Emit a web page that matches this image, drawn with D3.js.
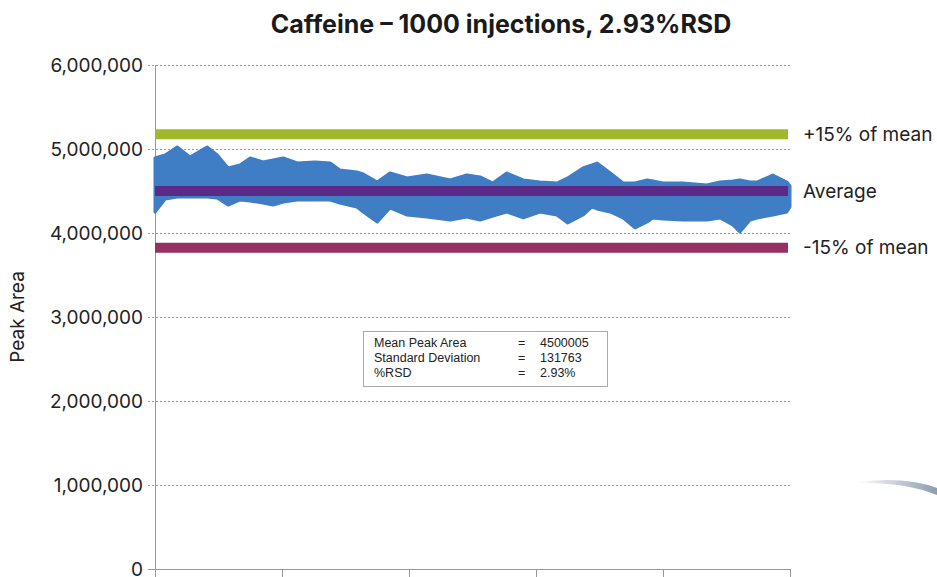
<!DOCTYPE html>
<html>
<head>
<meta charset="utf-8">
<script src="https://d3js.org/d3.v7.min.js"></script>
<style>
    body { margin: 0; background: #fff; }
    svg { display: block; }
</style>
</head>
<body>
<div id="chart"></div>
<script>
// envelope of the 1000 injection points
var injection = [0, 16, 35, 55, 82, 98, 115, 134, 150, 170, 186, 202, 224, 252, 276, 291, 318, 328, 350, 370,
    397, 428, 465, 491, 512, 532, 554, 580, 606, 633, 650, 674, 688, 696, 717, 737, 756, 775, 784, 800,
    831, 869, 890, 910, 921, 937, 948, 973, 995, 1000];
var upperArea = [4893000, 4929000, 5024000, 4905000, 5024000, 4929000, 4774000, 4810000, 4893000, 4845000,
    4869000, 4893000, 4833000, 4845000, 4833000, 4750000, 4726000, 4702000, 4607000, 4714000,
    4655000, 4690000, 4631000, 4690000, 4667000, 4595000, 4714000, 4631000, 4607000, 4595000,
    4655000, 4774000, 4810000, 4833000, 4714000, 4595000, 4595000, 4631000, 4619000, 4595000,
    4595000, 4571000, 4607000, 4619000, 4631000, 4607000, 4607000, 4690000, 4607000, 4560000];
var lowerArea = [4250000, 4405000, 4429000, 4429000, 4429000, 4417000, 4333000, 4393000, 4381000, 4357000,
    4333000, 4369000, 4393000, 4393000, 4393000, 4357000, 4310000, 4250000, 4131000, 4298000,
    4214000, 4190000, 4155000, 4190000, 4155000, 4202000, 4250000, 4179000, 4250000, 4214000,
    4119000, 4214000, 4310000, 4286000, 4250000, 4179000, 4060000, 4131000, 4179000, 4167000,
    4155000, 4155000, 4179000, 4095000, 4012000, 4155000, 4179000, 4214000, 4250000, 4310000];

var refNames = ["+15% of mean", "Average", "-15% of mean"];
var refValues = [5175006, 4500005, 3825004];
var refColors = ["#a2b82c", "#5b2986", "#962f62"];

var yTicks = [0, 1000000, 2000000, 3000000, 4000000, 5000000, 6000000];
var xTicks = [0, 200, 400, 600, 800, 1000];

var statLabels = ["Mean Peak Area", "Standard Deviation", "%RSD"];
var statValues = ["4500005", "131763", "2.93%"];

var W = 937, H = 577;
var svg = d3.select("#chart").append("svg").attr("width", W).attr("height", H);

var x = d3.scaleLinear().domain([0, 1000]).range([155, 790]);
var y = d3.scaleLinear().domain([0, 6000000]).range([569, 65]);

// decorative swoosh bottom right
var grad = svg.append("defs").append("linearGradient").attr("id", "sw")
    .attr("x1", "0%").attr("x2", "100%");
grad.append("stop").attr("offset", "0%").attr("stop-color", "#fff");
grad.append("stop").attr("offset", "100%").attr("stop-color", "#8d9bb0");
svg.append("path")
    .attr("d", "M858,482 Q905,476 937,488 L937,495 Q905,482 858,483 Z")
    .attr("fill", "url(#sw)");

// grid
svg.append("g").selectAll("line")
    .data(yTicks.filter(function (d) { return d > 0; }))
    .enter().append("line")
    .attr("x1", 148).attr("x2", 790)
    .attr("y1", function (d) { return y(d) + 0.5; })
    .attr("y2", function (d) { return y(d) + 0.5; })
    .attr("stroke", "#9a9a9a").attr("stroke-width", 1)
    .attr("stroke-dasharray", "2,2");

// y tick labels
svg.append("g").selectAll("text")
    .data(yTicks)
    .enter().append("text")
    .attr("x", 143)
    .attr("y", function (d) { return y(d); })
    .attr("dy", "0.35em")
    .attr("text-anchor", "end")
    .style("font-family", "Inter, 'Noto Sans', sans-serif")
    .style("font-size", "19px")
    .attr("fill", "#222")
    .text(function (d) { return d3.format(",")(d); });

// axes
svg.append("line").attr("x1", 155.5).attr("x2", 155.5).attr("y1", 65).attr("y2", 569)
    .attr("stroke", "#999");
svg.append("line").attr("x1", 148).attr("x2", 790).attr("y1", 569.5).attr("y2", 569.5)
    .attr("stroke", "#999");
svg.append("g").selectAll("line")
    .data(xTicks)
    .enter().append("line")
    .attr("x1", function (d) { return Math.round(x(d)) + 0.5; })
    .attr("x2", function (d) { return Math.round(x(d)) + 0.5; })
    .attr("y1", 569).attr("y2", 580)
    .attr("stroke", "#999");

// band of injections
var band = injection.map(function (d, i) { return { i: d, hi: upperArea[i], lo: lowerArea[i] }; });
svg.append("path")
    .datum(band)
    .attr("d", d3.area()
        .x(function (d) { return x(d.i); })
        .y0(function (d) { return y(d.lo); })
        .y1(function (d) { return y(d.hi); })
        .curve(d3.curveLinear))
    .attr("fill", "#3f7dc4")
    .attr("stroke", "#3f7dc4")
    .attr("stroke-width", 3)
    .attr("stroke-linejoin", "round");

// reference lines
svg.append("g").selectAll("line")
    .data(refValues)
    .enter().append("line")
    .attr("x1", x(0)).attr("x2", 788)
    .attr("y1", function (d) { return y(d); })
    .attr("y2", function (d) { return y(d); })
    .attr("stroke", function (d, i) { return refColors[i]; })
    .attr("stroke-width", 10);

svg.append("g").selectAll("text")
    .data(refValues)
    .enter().append("text")
    .attr("x", 803)
    .attr("y", function (d) { return y(d); })
    .attr("dy", "0.35em")
    .style("font-family", "Inter, 'Noto Sans', sans-serif")
    .style("font-size", "19px")
    .attr("fill", "#222")
    .text(function (d, i) { return refNames[i]; });

// stats box
svg.append("rect").attr("x", 363.5).attr("y", 331.5).attr("width", 244).attr("height", 55)
    .attr("fill", "#fff").attr("stroke", "#aaa");
var st = svg.append("g").style("font-family", "'Liberation Sans', Arial, sans-serif")
    .style("font-size", "12.5px").attr("fill", "#222");
statLabels.forEach(function (s, i) {
    var yy = 347 + i * 15;
    st.append("text").attr("x", 374).attr("y", yy).text(s);
    st.append("text").attr("x", 518).attr("y", yy).text("=");
    st.append("text").attr("x", 540).attr("y", yy).text(statValues[i]);
});

// title
svg.append("text")
    .attr("x", 501).attr("y", 33)
    .attr("text-anchor", "middle")
    .style("font-family", "Inter, 'Noto Sans', sans-serif")
    .style("font-size", "25px")
    .style("font-weight", "bold")
    .attr("fill", "#1a1a1a")
    .text("Caffeine \u2013 1000 injections, 2.93%RSD");

// y label
svg.append("text")
    .attr("transform", "translate(24,317) rotate(-90)")
    .attr("text-anchor", "middle")
    .style("font-family", "Inter, 'Noto Sans', sans-serif")
    .style("font-size", "19px")
    .attr("fill", "#222")
    .text("Peak Area");
</script>
</body>
</html>
